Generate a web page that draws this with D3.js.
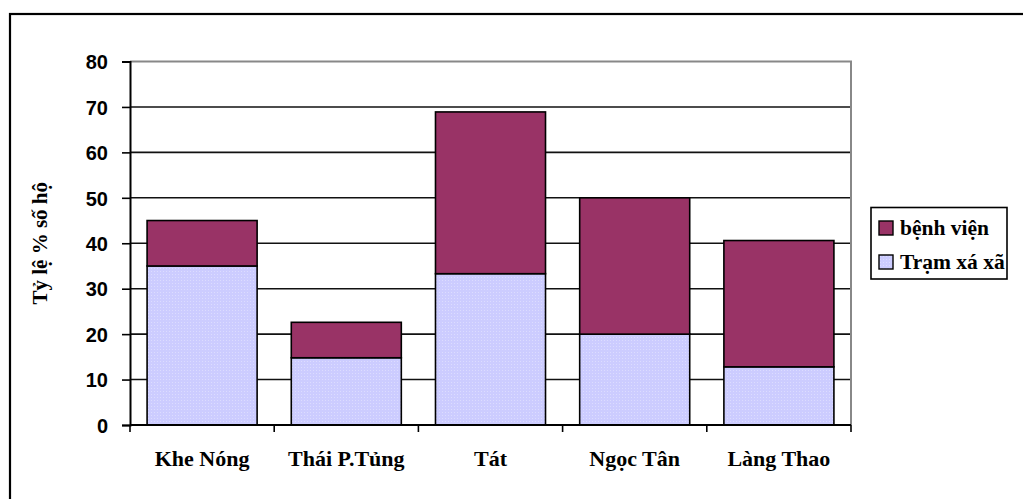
<!DOCTYPE html>
<html>
<head>
<meta charset="utf-8">
<script src="https://cdn.jsdelivr.net/npm/d3@7"></script>
<style>
  html, body { margin: 0; padding: 0; background: #fff; }
  svg { display: block; }
</style>
</head>
<body>
<svg id="chart" width="1023" height="499"></svg>
<script>
// Commune names on the x axis
const categories = ["Khe Nóng", "Thái P.Tủng", "Tát", "Ngọc Tân", "Làng Thao"];
// Share of households (%) by place of treatment
const tramXaValues = [35, 14.8, 33.3, 20, 12.8];
const benhVienValues = [10, 7.8, 35.6, 30, 27.8];
const seriesNames = ["Trạm xá xã", "bệnh viện"];
const yTicks = [0, 10, 20, 30, 40, 50, 60, 70, 80];
const yTitle = "Tỷ lệ % số hộ";

const colors = { "Trạm xá xã": "#ccccff", "bệnh viện": "#993366" };

const svg = d3.select("#chart");
const W = 1023, H = 499;

// Outer chart frame (only top and left edges fall inside the view)
svg.append("rect")
  .attr("x", 10).attr("y", 14)
  .attr("width", W + 20).attr("height", H + 20)
  .attr("fill", "none").attr("stroke", "#000").attr("stroke-width", 2.2);

// Light dotted texture for the lower series
const defs = svg.append("defs");
const pat = defs.append("pattern")
  .attr("id", "dots").attr("width", 3).attr("height", 3)
  .attr("patternUnits", "userSpaceOnUse");
pat.append("rect").attr("width", 3).attr("height", 3).attr("fill", "#ccccff");
pat.append("rect").attr("x", 1).attr("y", 1).attr("width", 1).attr("height", 1).attr("fill", "#dcdcff");

const plot = { left: 130, right: 851, top: 61.5, bottom: 425 };

const x = d3.scaleBand()
  .domain(categories)
  .range([plot.left, plot.right])
  .paddingInner(0.237)
  .paddingOuter(0.1185);

const y = d3.scaleLinear()
  .domain([0, 80])
  .range([plot.bottom, plot.top]);

// Horizontal gridlines
svg.append("g")
  .selectAll("line")
  .data(yTicks.filter(v => v > 0 && v < 80))
  .join("line")
  .attr("x1", plot.left).attr("x2", plot.right)
  .attr("y1", d => y(d)).attr("y2", d => y(d))
  .attr("stroke", "#111").attr("stroke-width", 1.6);

// Plot area border (top and right)
svg.append("path")
  .attr("d", `M${plot.left},${y(80)}H${plot.right}V${plot.bottom}`)
  .attr("fill", "none").attr("stroke", "#888").attr("stroke-width", 2);

// Stacked bars
const rows = categories.map((c, i) => ({
  cat: c,
  "Trạm xá xã": tramXaValues[i],
  "bệnh viện": benhVienValues[i]
}));
const stacked = d3.stack().keys(seriesNames)(rows);

svg.append("g")
  .selectAll("g")
  .data(stacked)
  .join("g")
  .attr("fill", d => d.key === "Trạm xá xã" ? "url(#dots)" : colors[d.key])
  .selectAll("rect")
  .data(d => d)
  .join("rect")
  .attr("x", d => x(d.data.cat))
  .attr("width", x.bandwidth())
  .attr("y", d => y(d[1]))
  .attr("height", d => y(d[0]) - y(d[1]))
  .attr("stroke", "#000").attr("stroke-width", 1.6);

// Y axis
const yAxis = svg.append("g")
  .attr("transform", `translate(${plot.left},0)`)
  .call(d3.axisLeft(y).tickValues(yTicks).tickSize(8).tickPadding(14).tickFormat(d3.format("d")));
yAxis.select(".domain").attr("stroke", "#000").attr("stroke-width", 2);
yAxis.selectAll(".tick line").attr("stroke", "#000").attr("stroke-width", 1.6);
yAxis.selectAll(".tick text")
  .attr("font-family", "Liberation Sans, Arial, sans-serif")
  .attr("font-weight", "bold").attr("font-size", 20).attr("fill", "#000")
  .attr("dy", "0.36em");

// X axis line and tick marks between categories
svg.append("line")
  .attr("x1", plot.left).attr("x2", plot.right)
  .attr("y1", plot.bottom).attr("y2", plot.bottom)
  .attr("stroke", "#000").attr("stroke-width", 2);
const step = x.step();
svg.append("g")
  .selectAll("line")
  .data(d3.range(categories.length + 1))
  .join("line")
  .attr("x1", i => plot.left + i * step).attr("x2", i => plot.left + i * step)
  .attr("y1", plot.bottom).attr("y2", plot.bottom + 7)
  .attr("stroke", "#000").attr("stroke-width", 1.6);

// Category labels
svg.append("g")
  .selectAll("text")
  .data(categories)
  .join("text")
  .attr("x", d => x(d) + x.bandwidth() / 2)
  .attr("y", 466)
  .attr("text-anchor", "middle")
  .attr("font-family", "Liberation Serif, Times New Roman, serif")
  .attr("font-weight", "bold").attr("font-size", 22)
  .text(d => d);

// Y axis title
svg.append("text")
  .attr("transform", `translate(47,${(y(0) + y(80)) / 2}) rotate(-90)`)
  .attr("text-anchor", "middle")
  .attr("font-family", "Liberation Serif, Times New Roman, serif")
  .attr("font-weight", "bold").attr("font-size", 21)
  .text(yTitle);

// Legend
const legend = svg.append("g");
legend.append("rect")
  .attr("x", 871).attr("y", 207.5).attr("width", 136).attr("height", 71.5)
  .attr("fill", "#fff").attr("stroke", "#000").attr("stroke-width", 1.6);
const legendItems = ["bệnh viện", "Trạm xá xã"];
const li = legend.selectAll("g.item")
  .data(legendItems)
  .join("g")
  .attr("class", "item")
  .attr("transform", (d, i) => `translate(879,${221 + i * 34})`);
li.append("rect")
  .attr("width", 14).attr("height", 14)
  .attr("fill", d => d === "Trạm xá xã" ? "url(#dots)" : colors[d])
  .attr("stroke", "#000").attr("stroke-width", 1.4);
li.append("text")
  .attr("x", 21).attr("y", 14)
  .attr("font-family", "Liberation Serif, Times New Roman, serif")
  .attr("font-weight", "bold").attr("font-size", 21.5)
  .text(d => d);
</script>
</body>
</html>
